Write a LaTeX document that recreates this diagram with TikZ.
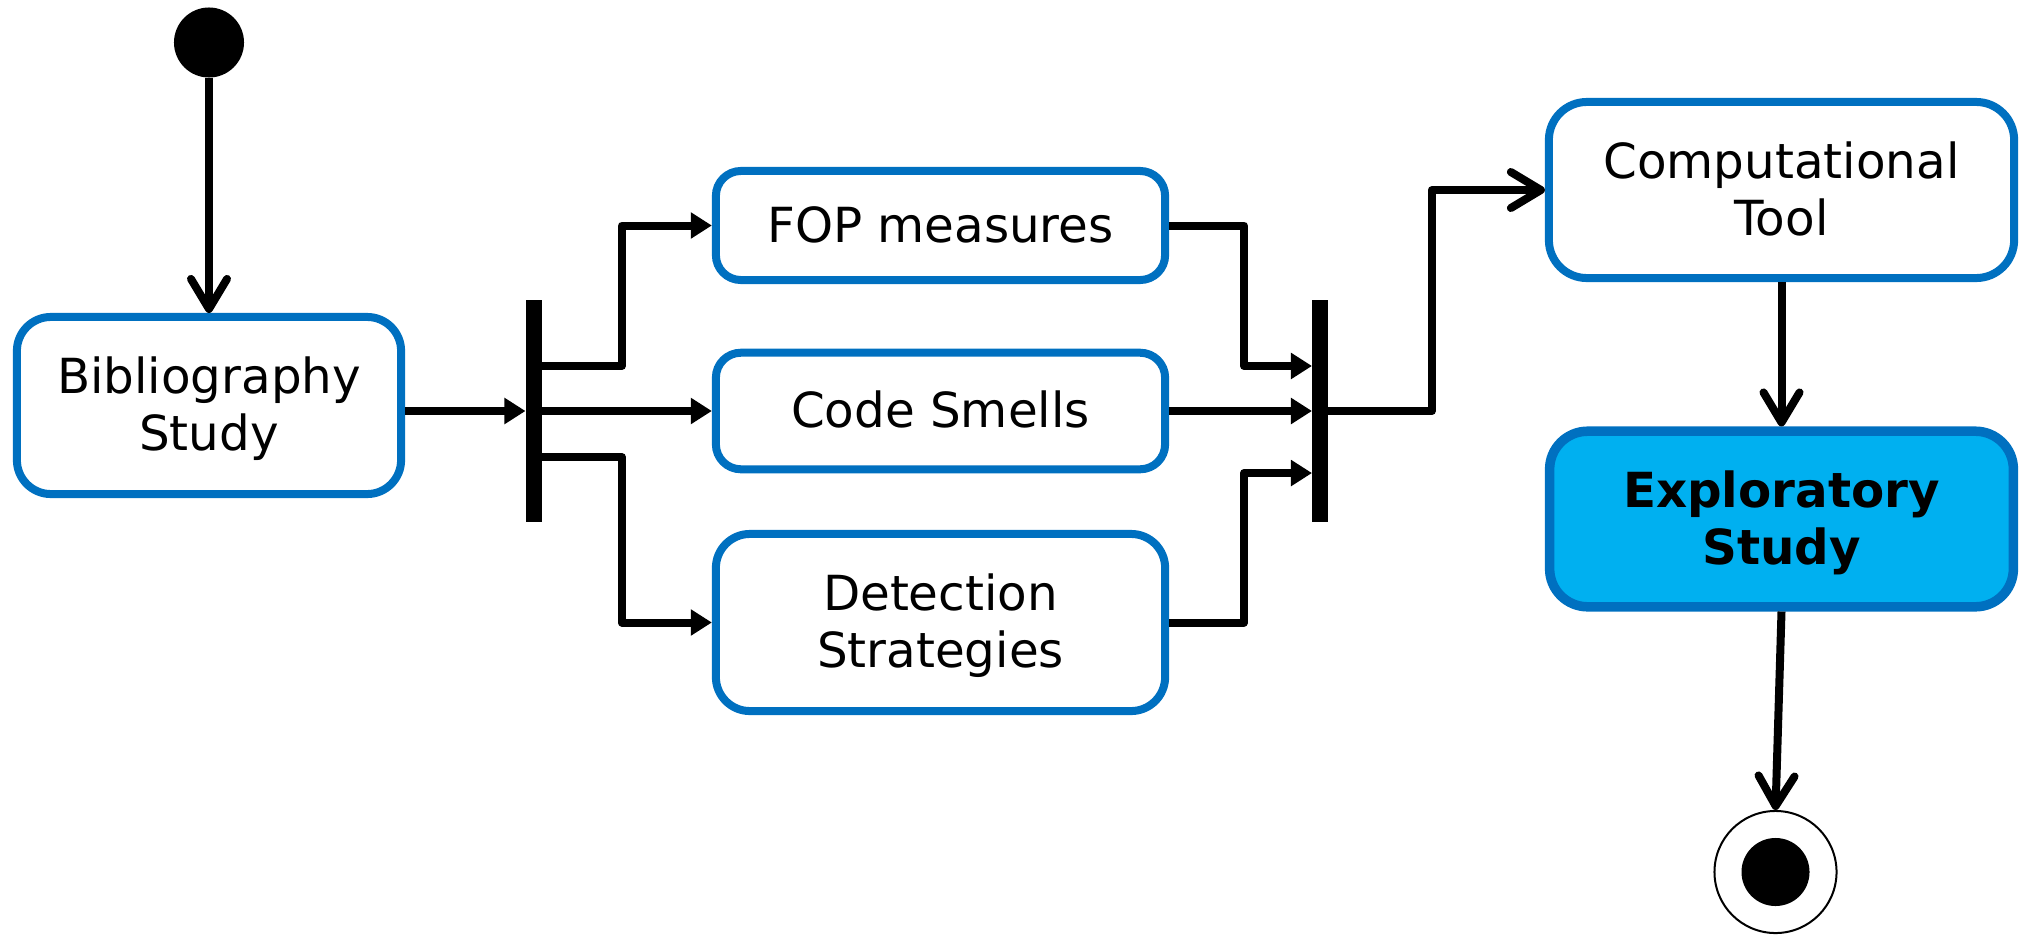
\documentclass[tikz,border=0pt]{standalone}
\usepackage{fontspec}
\setmainfont{DejaVu Sans}
\usetikzlibrary{arrows.meta}
\definecolor{boxblue}{HTML}{0070C0}
\definecolor{fillblue}{HTML}{00B0F0}
% strut giving every text line the same ascent/descent
\newcommand\linestrut{\rule[-0.116cm]{0pt}{0.57cm}}

\begin{document}
\begin{tikzpicture}[x=0.01cm, y=-0.01cm,
  act/.style={rectangle, draw=boxblue, line width=0.08cm, fill=white,
    rounded corners=#1, inner sep=0pt, align=center,
    font=\fontsize{13.75pt}{0.57cm}\selectfont},
  bar/.style={rectangle, fill=black, inner sep=0pt, outer sep=0pt,
    minimum width=0.16cm, minimum height=2.21cm},
  flow/.style={line width=0.08cm, line join=round, -{Straight Barb[length=0.30cm, width=0.36cm, round]}},
  sync/.style={line width=0.08cm, line join=round, -{Triangle[length=0.21cm, width=0.25cm]}}
]
\useasboundingbox (0,0) rectangle (2021,936);

% initial and final states
\node[circle, fill=black, inner sep=0pt, minimum size=0.70cm] (start) at (209,42.5) {};
\node[circle, draw=black, line width=0.02cm, fill=white, inner sep=0pt, minimum size=1.22cm,
  path picture={\fill[black] (path picture bounding box.center) circle (0.34cm);}] (final) at (1775.5,872) {};

% activities
\node[act=0.34cm, minimum width=3.84cm, minimum height=1.77cm] (bib) at (209,405.5)
  {\linestrut Bibliography\\\linestrut Study};
\node[act=0.25cm, minimum width=4.49cm, minimum height=1.09cm] (fop) at (940.5,225.5)
  {\linestrut FOP measures};
\node[act=0.25cm, minimum width=4.49cm, minimum height=1.165cm] (code) at (940.5,411)
  {\linestrut Code Smells};
\node[act=0.34cm, minimum width=4.49cm, minimum height=1.77cm] (det) at (940.5,622.5)
  {\linestrut Detection\\\linestrut Strategies};
\node[act=0.38cm, minimum width=4.65cm, minimum height=1.76cm] (comp) at (1781.5,190)
  {\linestrut Computational\\\linestrut Tool};
\node[act=0.38cm, line width=0.095cm, fill=fillblue, minimum width=4.635cm, minimum height=1.755cm,
  font=\fontsize{13.75pt}{0.57cm}\selectfont\bfseries] (expl) at (1781.5,519)
  {\linestrut Exploratory\\\linestrut Study};

% fork and join bars
\node[bar] (fork) at (533.5,411) {};
\node[bar] (join) at (1320,411) {};

% control flow
\draw[flow] (start.south) -- (bib.north);
\draw[sync] (bib.east |- fork.west) -- (fork.west);
\draw[sync] ([yshift=0.45cm]fork.east) -| ([xshift=-0.90cm]fop.west) -- (fop.west);
\draw[sync] (fork.east) -- (code.west);
\draw[sync] ([yshift=-0.46cm]fork.east) -| ([xshift=-0.90cm]det.west) -- (det.west);
\draw[sync] (fop.east) -| ([xshift=-0.68cm, yshift=0.45cm]join.west) -- ([yshift=0.45cm]join.west);
\draw[sync] (code.east) -- (join.west);
\draw[sync] (det.east) -| ([xshift=-0.68cm, yshift=-0.62cm]join.west) -- ([yshift=-0.62cm]join.west);
\draw[flow] (join.east) -| ([xshift=-1.13cm]comp.west) -- (comp.west);
\draw[flow] (comp.south) -- (expl.north);
\draw[flow] (expl.south) -- (final.north);
\end{tikzpicture}
\end{document}
